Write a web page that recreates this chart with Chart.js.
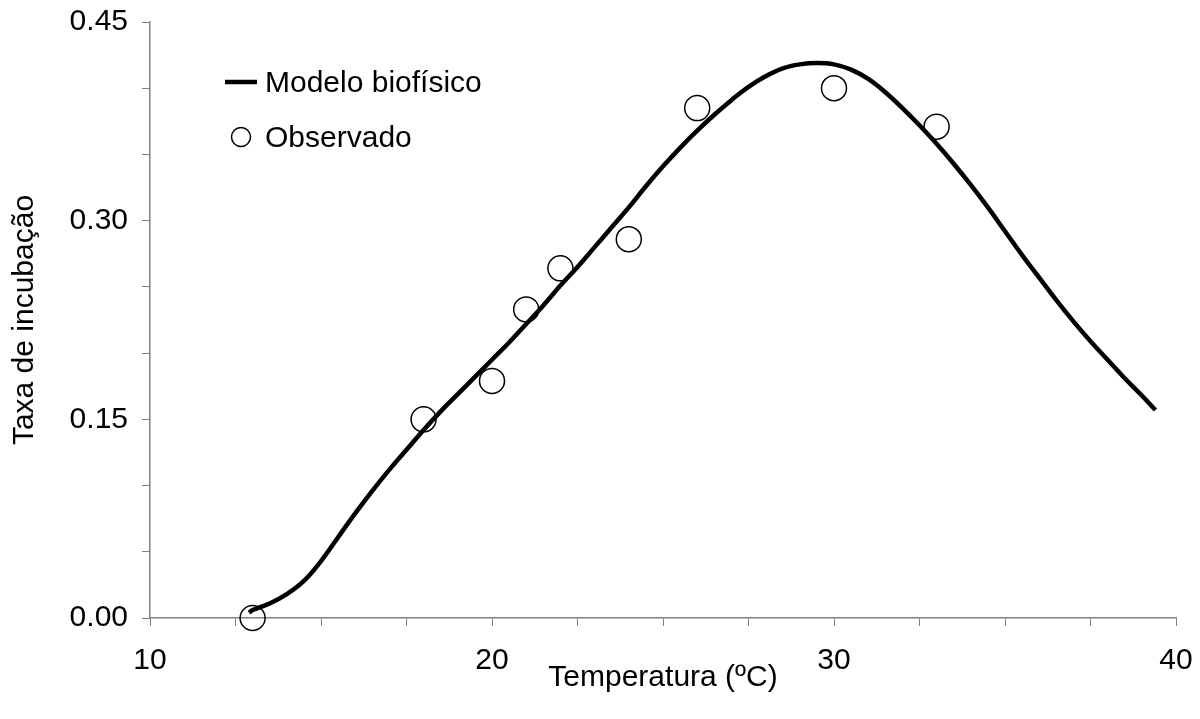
<!DOCTYPE html>
<html lang="pt">
<head>
<meta charset="utf-8">
<title>Taxa de incubação</title>
<script src="https://cdn.jsdelivr.net/npm/chart.js@4/dist/chart.umd.min.js"></script>
<style>
  html, body { margin: 0; padding: 0; background: #fff; }
  #wrap { width: 1200px; height: 719px; position: relative; }
</style>
</head>
<body>
<div id="wrap"><canvas id="incubChart"></canvas></div>
<script>
// model curve
const modelTemp = [12.9, 13, 13.5, 14, 14.5, 15, 15.5, 16, 16.5, 17, 17.5, 18, 18.5, 19, 19.5, 20,
  20.5, 21, 21.5, 22, 22.5, 23, 23.5, 24, 24.5, 25, 25.5, 26, 26.5, 27, 27.5, 28, 28.5, 29, 29.5,
  30, 30.5, 31, 31.5, 32, 32.5, 33, 33.5, 34, 34.5, 35, 35.5, 36, 36.5, 37, 37.5, 38, 38.5, 39, 39.4];
const modelRate = [0.004, 0.006, 0.011, 0.018, 0.028, 0.043, 0.061, 0.079, 0.096, 0.112, 0.127, 0.142,
  0.156, 0.169, 0.182, 0.195, 0.208, 0.222, 0.236, 0.251, 0.265, 0.280, 0.295, 0.310, 0.326, 0.341,
  0.355, 0.368, 0.380, 0.391, 0.401, 0.409, 0.415, 0.418, 0.419, 0.418, 0.414, 0.407, 0.397, 0.385,
  0.372, 0.358, 0.343, 0.327, 0.310, 0.292, 0.274, 0.257, 0.240, 0.224, 0.209, 0.195, 0.181, 0.168, 0.157];

// observed points
const obsTemp = [13, 18, 20, 21, 22, 24, 26, 30, 33];
const obsRate = [0.000, 0.150, 0.179, 0.233, 0.264, 0.286, 0.385, 0.400, 0.371];

// labelled ticks
const xTickLabels = [10, 20, 30, 40];
const yTickLabels = [0, 0.15, 0.30, 0.45];

const seriesNames = ['Modelo biofísico', 'Observado'];
const xTitle = 'Temperatura (ºC)';
const yTitle = 'Taxa de incubação';

const FONT = '"Liberation Sans", Arial, sans-serif';
const FSIZE = 30;
const axisGray = '#808080';

const toPoints = (xs, ys) => xs.map((x, i) => ({ x: x, y: ys[i] }));

// draws the little legend in the upper left of the plot
const legendBox = {
  id: 'legendBox',
  afterDraw(chart) {
    const ctx = chart.ctx;
    const a = chart.chartArea;
    const x0 = a.left + 75;
    const y1 = a.top + 60;
    const y2 = a.top + 115;
    ctx.save();
    ctx.strokeStyle = '#000';
    ctx.lineWidth = 4.5;
    ctx.beginPath();
    ctx.moveTo(x0, y1);
    ctx.lineTo(x0 + 32, y1);
    ctx.stroke();

    ctx.lineWidth = 1.5;
    ctx.beginPath();
    ctx.arc(x0 + 16, y2, 9.5, 0, Math.PI * 2);
    ctx.stroke();

    ctx.fillStyle = '#000';
    ctx.font = FSIZE + 'px ' + FONT;
    ctx.textBaseline = 'middle';
    ctx.textAlign = 'left';
    ctx.fillText(seriesNames[0], x0 + 40, y1 + 2);
    ctx.fillText(seriesNames[1], x0 + 40, y2 + 2);
    ctx.restore();
  }
};

const ctx = document.querySelector('#incubChart').getContext('2d');

const config = {
  type: 'scatter',
  data: {
    datasets: [
      {
        label: seriesNames[0],
        data: toPoints(modelTemp, modelRate),
        showLine: true,
        borderColor: '#000',
        borderWidth: 4.5,
        pointRadius: 0,
        tension: 0.4,
        fill: false,
        order: 1
      },
      {
        label: seriesNames[1],
        data: toPoints(obsTemp, obsRate),
        showLine: false,
        clip: false,
        pointStyle: 'circle',
        pointRadius: 12.5,
        pointBorderWidth: 1.5,
        pointBorderColor: '#000',
        pointBackgroundColor: 'rgba(0,0,0,0)',
        order: 0
      }
    ]
  },
  options: {
    responsive: true,
    maintainAspectRatio: false,
    animation: false,
    layout: { padding: { left: 0, top: 22, right: 24, bottom: 0 } },
    plugins: {
      legend: { display: false },
      tooltip: { enabled: false }
    },
    scales: {
      x: {
        type: 'linear',
        min: 10,
        max: 40,
        afterFit: scale => {
          scale.height = 101;
          scale.paddingLeft = 0;
          scale.paddingRight = 0;
        },
        border: { display: true, color: axisGray, width: 1.5 },
        grid: { display: true, drawOnChartArea: false, drawTicks: true, tickLength: 8, color: axisGray },
        ticks: {
          stepSize: 2.5,
          autoSkip: false,
          maxRotation: 0,
          padding: 17,
          color: '#000',
          font: { family: FONT, size: FSIZE },
          callback: v => (xTickLabels.includes(v) ? String(v) : '')
        },
        title: {
          display: true,
          text: xTitle,
          color: '#000',
          font: { family: FONT, size: FSIZE },
          padding: { top: 0, bottom: 23 }
        }
      },
      y: {
        type: 'linear',
        min: 0,
        max: 0.45,
        afterFit: scale => {
          scale.width = 150;
          scale.paddingTop = 0;
          scale.paddingBottom = 0;
        },
        border: { display: true, color: axisGray, width: 1.5 },
        grid: { display: true, drawOnChartArea: false, drawTicks: true, tickLength: 8, color: axisGray },
        ticks: {
          stepSize: 0.05,
          autoSkip: false,
          padding: 14,
          color: '#000',
          font: { family: FONT, size: FSIZE },
          callback: v => {
            const r = Math.round(v * 100) / 100;
            return yTickLabels.some(t => Math.abs(t - r) < 1e-6) ? r.toFixed(2) : '';
          }
        },
        title: {
          display: true,
          text: yTitle,
          color: '#000',
          font: { family: FONT, size: FSIZE },
          padding: { top: 7, bottom: 0 }
        }
      }
    }
  },
  plugins: [legendBox]
};

let incubChart = new Chart(ctx, config);
</script>
</body>
</html>
